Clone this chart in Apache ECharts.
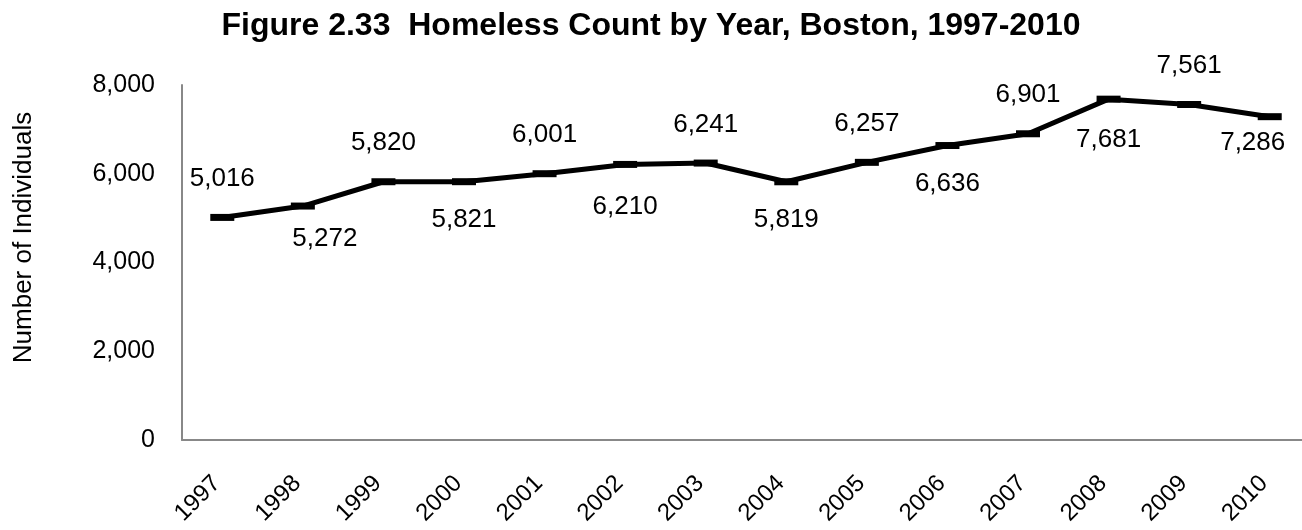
<!DOCTYPE html>
<html>
<head>
<meta charset="utf-8">
<script src="https://cdn.jsdelivr.net/npm/echarts@6/dist/echarts.min.js"></script>
<style>
  html, body { margin: 0; padding: 0; background: #fff; }
  #chart { width: 1302px; height: 530px; }
</style>
</head>
<body>
<div id="chart"></div>
<script>
// 数据
var years = ['1997', '1998', '1999', '2000', '2001', '2002', '2003',
             '2004', '2005', '2006', '2007', '2008', '2009', '2010'];
var counts = [5016, 5272, 5820, 5821, 6001, 6210, 6241,
              5819, 6257, 6636, 6901, 7681, 7561, 7286];
var yTicks = [0, 2000, 4000, 6000, 8000];

// 标签位置（上下交替，个别手动偏移）
var labelPos = ['top', 'bottom', 'top', 'bottom', 'top', 'bottom', 'top',
                'bottom', 'top', 'bottom', 'top', 'bottom', 'top', 'bottom'];
var labelShift = { 1: [22, -6], 5: [0, 4], 11: [0, 2], 13: [-17, -12] };

var fontFamily = '"Liberation Sans", Arial, Helvetica, sans-serif';

var chart = echarts.init(document.getElementById('chart'));

var option = {
  backgroundColor: '#fff',
  animation: false,
  title: {
    text: 'Figure 2.33  Homeless Count by Year, Boston, 1997-2010',
    left: 'center',
    top: 5,
    textStyle: { fontFamily: fontFamily, fontSize: 32, fontWeight: 'bold', color: '#000' }
  },
  grid: { left: 182, top: 85, width: 1128, height: 355, outerBoundsMode: 'none', containLabel: false },
  xAxis: {
    type: 'category',
    data: years,
    boundaryGap: true,
    axisLine: { lineStyle: { color: '#888', width: 2 } },
    axisTick: { show: false },
    axisLabel: {
      rotate: 45,
      margin: 34,
      interval: 0,
      padding: [0, 8, 0, 0],
      color: '#000',
      fontFamily: fontFamily,
      fontSize: 24
    }
  },
  yAxis: {
    type: 'value',
    min: yTicks[0],
    max: yTicks[yTicks.length - 1],
    interval: 2000,
    name: 'Number of Individuals',
    nameLocation: 'middle',
    nameGap: 145,
    nameTextStyle: { fontFamily: fontFamily, fontSize: 26, color: '#000', padding: [0, 0, 0, 50] },
    axisLine: { show: true, lineStyle: { color: '#888', width: 2 } },
    axisTick: { show: false },
    splitLine: { show: false },
    axisLabel: {
      margin: 27,
      color: '#000',
      fontFamily: fontFamily,
      fontSize: 25,
      formatter: function (v) { return v.toLocaleString('en-US'); }
    }
  },
  series: [{
    type: 'line',
    data: counts.map(function (v, i) {
      var shift = labelShift[i] || [0, 0];
      return {
        value: v,
        label: { position: labelPos[i], offset: shift }
      };
    }),
    symbol: 'rect',
    symbolSize: [24, 7],
    itemStyle: { color: '#000' },
    lineStyle: { color: '#000', width: 5 },
    label: {
      show: true,
      distance: 22,
      color: '#000',
      fontFamily: fontFamily,
      fontSize: 26,
      formatter: function (p) { return p.value.toLocaleString('en-US'); }
    }
  }]
};

chart.setOption(option);
</script>
</body>
</html>
